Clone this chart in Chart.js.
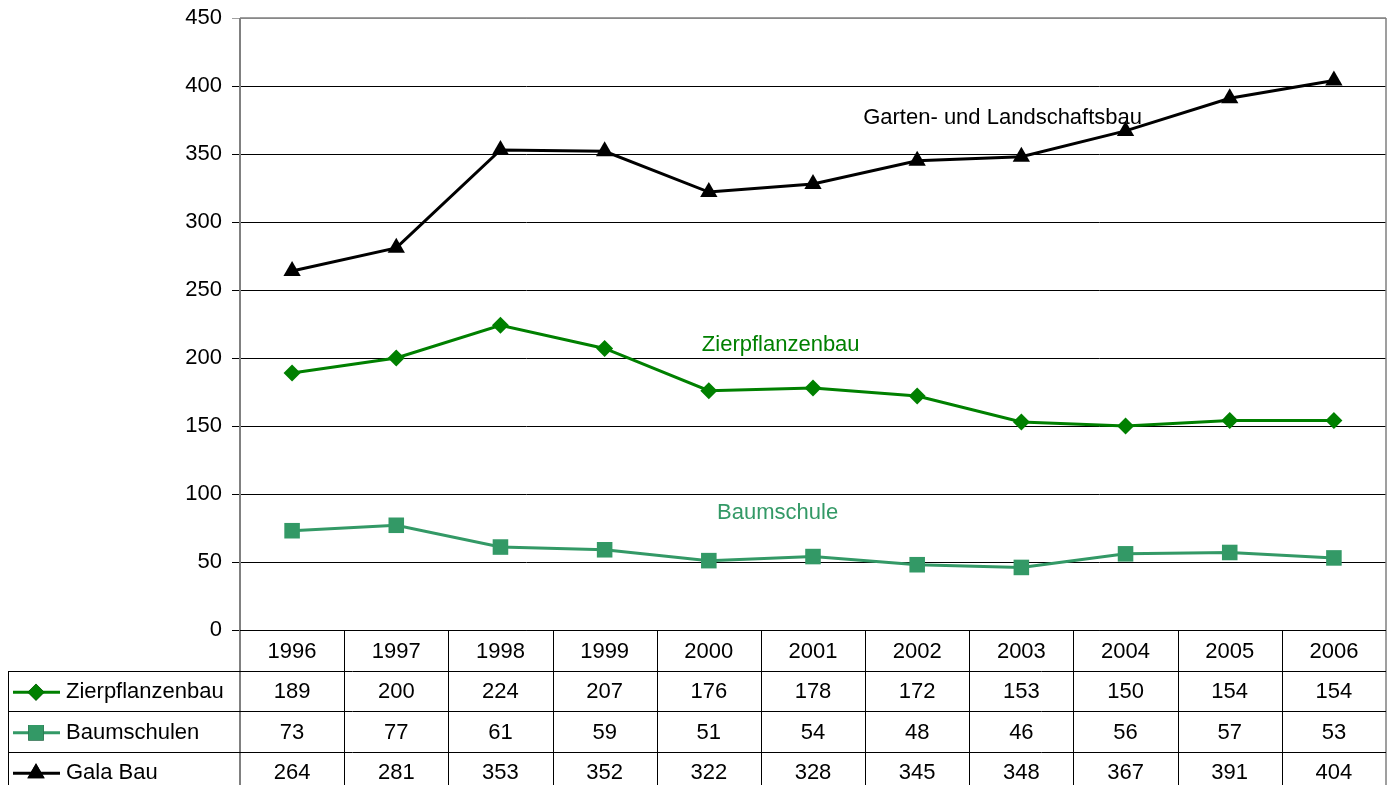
<!DOCTYPE html>
<html>
<head>
<meta charset="utf-8">
<script src="https://cdn.jsdelivr.net/npm/chart.js@4.4.1/dist/chart.umd.min.js"></script>
<style>
  html, body { margin: 0; padding: 0; background: #fff; overflow: hidden; }
  #wrap { width: 1391px; height: 785px; }
</style>
</head>
<body>
<div id="wrap"><canvas id="chart"></canvas></div>
<script>
const years = ['1996', '1997', '1998', '1999', '2000', '2001', '2002', '2003', '2004', '2005', '2006'];
const zierpflanzenbau = [189, 200, 224, 207, 176, 178, 172, 153, 150, 154, 154];
const baumschulen = [73, 77, 61, 59, 51, 54, 48, 46, 56, 57, 53];
const galaBau = [264, 281, 353, 352, 322, 328, 345, 348, 367, 391, 404];
const seriesNames = ['Zierpflanzenbau', 'Baumschulen', 'Gala Bau'];
const lineLabels = ['Garten- und Landschaftsbau', 'Zierpflanzenbau', 'Baumschule'];

const FONT = '"Liberation Sans", Arial, sans-serif';
const colors = ['#008000', '#339966', '#000000'];
const markers = ['rectRot', 'rect', 'triangle'];
const radii = [8.5, 11, 10];

// data table under the plot, columns follow the x scale
const tablePlugin = {
  id: 'dataTable',
  afterDraw(chart) {
    const ctx = chart.ctx;
    const a = chart.chartArea;
    const xs = chart.scales.x;
    const colW = (a.right - a.left) / years.length;
    const rowH = 40.5;
    const H = chart.height;
    const tableLeft = 8;
    ctx.save();

    // grey frame of plot area (top, right, left axis)
    ctx.strokeStyle = '#808080';
    ctx.lineWidth = 1.5;
    ctx.beginPath();
    ctx.moveTo(a.left, a.top); ctx.lineTo(a.right, a.top);
    ctx.moveTo(a.right, a.top); ctx.lineTo(a.right, H);
    ctx.stroke();
    ctx.lineWidth = 2;
    ctx.beginPath();
    ctx.moveTo(a.left, a.top); ctx.lineTo(a.left, H);
    ctx.stroke();

    // table grid
    ctx.strokeStyle = '#000';
    ctx.lineWidth = 1;
    ctx.beginPath();
    ctx.moveTo(a.left, a.bottom + 0.5); ctx.lineTo(a.right, a.bottom + 0.5);
    for (let r = 1; r <= 3; r++) {
      const y = Math.round(a.bottom + r * rowH) + 0.5;
      ctx.moveTo(tableLeft, y); ctx.lineTo(a.right, y);
    }
    for (let i = 1; i < years.length; i++) {
      const x = Math.round(a.left + i * colW) + 0.5;
      ctx.moveTo(x, a.bottom); ctx.lineTo(x, H);
    }
    ctx.moveTo(tableLeft + 0.5, Math.round(a.bottom + rowH)); ctx.lineTo(tableLeft + 0.5, H);
    ctx.stroke();

    // year row
    ctx.font = '22px ' + FONT;
    ctx.fillStyle = '#000';
    ctx.textAlign = 'center';
    ctx.textBaseline = 'middle';
    years.forEach((yr, i) => {
      ctx.fillText(yr, xs.getPixelForValue(i), a.bottom + rowH / 2 + 2);
    });

    // series rows
    chart.data.datasets.forEach((ds, r) => {
      const cy = a.bottom + (r + 1.5) * rowH + 1.5;
      ctx.textAlign = 'center';
      ctx.fillStyle = '#000';
      ds.data.forEach((v, i) => ctx.fillText(String(v), xs.getPixelForValue(i), cy));
      // legend key
      ctx.strokeStyle = colors[r];
      ctx.lineWidth = 3;
      ctx.beginPath();
      ctx.moveTo(13, cy); ctx.lineTo(60, cy);
      ctx.stroke();
      Chart.helpers.drawPoint(ctx, {
        pointStyle: markers[r], radius: radii[r], rotation: 0, borderWidth: 0
      }, 36, cy);
      ctx.fillStyle = colors[r];
      ctx.fill();
      ctx.fillStyle = '#000';
      ctx.textAlign = 'left';
      ctx.fillText(ds.label, 66, cy);
    });
    ctx.restore();
  }
};

// series names written inside the plot
const lineLabelPlugin = {
  id: 'lineLabels',
  afterDatasetsDraw(chart) {
    const ctx = chart.ctx;
    const xs = chart.scales.x, ys = chart.scales.y;
    const spots = [[6.82, 376.5, '#000000'], [4.69, 209.5, '#008000'], [4.66, 86, '#339966']];
    ctx.save();
    ctx.font = '22px ' + FONT;
    ctx.textAlign = 'center';
    ctx.textBaseline = 'middle';
    lineLabels.forEach((t, i) => {
      const [xv, yv, c] = spots[i];
      ctx.fillStyle = c;
      ctx.fillText(t, xs.getPixelForValue(xv), ys.getPixelForValue(yv));
    });
    ctx.restore();
  }
};

const seriesData = [zierpflanzenbau, baumschulen, galaBau];

new Chart(document.getElementById('chart').getContext('2d'), {
  type: 'line',
  data: {
    labels: years,
    datasets: seriesData.map((d, i) => ({
      label: seriesNames[i],
      data: d,
      borderColor: colors[i],
      backgroundColor: colors[i],
      borderWidth: 3,
      pointStyle: markers[i],
      pointRadius: radii[i],
      pointHoverRadius: radii[i],
      pointBorderWidth: 0,
      tension: 0
    }))
  },
  options: {
    responsive: true,
    maintainAspectRatio: false,
    animation: false,
    layout: { autoPadding: false, padding: { top: 18, right: 5, bottom: 155, left: 0 } },
    plugins: { legend: { display: false }, tooltip: { enabled: false } },
    scales: {
      x: {
        display: false,
        offset: true
      },
      y: {
        min: 0,
        max: 450,
        afterFit(scale) {
          scale.width = 240;
          scale.paddingTop = 0;
          scale.paddingBottom = 0;
        },
        ticks: {
          stepSize: 50,
          color: '#000',
          padding: 10,
          font: { family: FONT, size: 22 }
        },
        grid: {
          color: (c) => (c.tick && c.tick.value === 450 ? '#a0a0a0' : '#000'),
          lineWidth: 1,
          tickLength: 8,
          drawTicks: true
        },
        border: { display: false }
      }
    }
  },
  plugins: [tablePlugin, lineLabelPlugin]
});
</script>
</body>
</html>
